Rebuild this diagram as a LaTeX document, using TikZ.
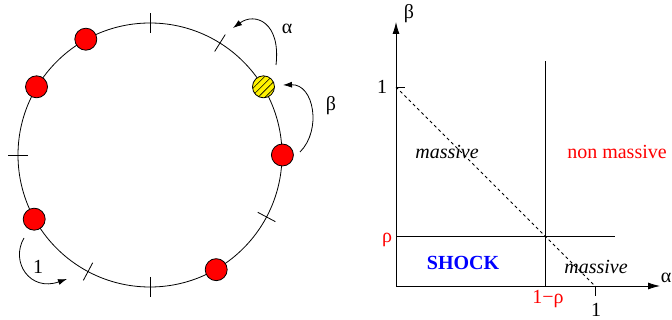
\documentclass[tikz,border=0pt]{standalone}
\usepackage{fontspec}
\setmainfont{Liberation Serif}
\usepackage{tikz}
\usetikzlibrary{
    arrows.meta,
    patterns.meta,
    calc
}

\begin{document}
\begin{tikzpicture}[x=1pt, y=-1pt, line width=0.8pt,
  font=\fontsize{20}{24}\selectfont,
  particle/.style={circle, draw, fill=red, minimum size=22pt, inner sep=0pt},
  probe/.style={circle, draw, fill=yellow, minimum size=22pt, inner sep=0pt,
                postaction={pattern={Lines[angle=45, distance=5pt, line width=0.6pt]}}},
  hop/.style={-{Latex[length=9pt, width=6pt]}},
  axis/.style={-{Latex[length=12pt, width=7pt]}},
  lbl/.style={inner sep=0pt}]

  \useasboundingbox (0,0) rectangle (672,320);

  % Ring of sites
  \node[circle, draw, minimum size=264pt, inner sep=0pt] (ring) at (150,155) {};
  \foreach \a in {90,180,270,58,-28,-118}
    \draw (ring.center) ++(\a:122pt) -- ++(\a:20pt);

  % Particles (red) and tagged particle (yellow)
  \node[particle] (p1) at (ring.119) {};
  \node[particle] (p2) at (ring.149) {};
  \node[particle] (p3) at (ring.209) {};
  \node[particle] (p4) at (ring.-60) {};
  \node[particle] (p5) at (ring.0)   {};
  \node[probe]    (tag) at (ring.31) {};

  % Hopping arrows
  \coordinate (aS) at (276,65);  \coordinate (aE) at (233,28);
  \coordinate (bS) at (300,152); \coordinate (bE) at (283,85);
  \coordinate (cS) at (24,238);  \coordinate (cE) at (67,279);
  \draw[hop] (aS) .. controls (281,22) and (255,12) .. (aE);
  \draw[hop] (bS) .. controls (322,130) and (314,84) .. (bE);
  \draw[hop] (cS) .. controls (10,262) and (30,292) .. (cE);
  \node[lbl] (la) at (287,29)  {α};
  \node[lbl] (lb) at (331,106) {β};
  \node[lbl] (lc) at (38,267)  {1};

  % Phase diagram
  \coordinate (O)    at (396,286);
  \coordinate (ytop) at (396,22);
  \coordinate (xend) at (660,286);
  \coordinate (b1)   at (396,87);
  \coordinate (a1)   at (595,286);
  \coordinate (v1)   at (545,286);
  \coordinate (v2)   at (545,61);
  \coordinate (h1)   at (396,236);
  \coordinate (h2)   at (615,236);

  \draw[axis] (O) -- (ytop);
  \draw[axis] (O) -- (xend);
  \draw (b1) -- ++(9,0);
  \draw (a1) -- ++(0,10);
  \draw[dashed, dash pattern=on 3pt off 3pt] (b1) -- (a1);
  \draw (v1) -- (v2);
  \draw (h1) -- (h2);

  \node[lbl] (nbeta)  at (409,14)  {β};
  \node[lbl] (nalpha) at (666,278) {α};
  \node[lbl] (n1y)    at (382,87)  {1};
  \node[lbl] (n1x)    at (596,310) {1};
  \node[lbl, text=red] (nrho)  at (387,240) {ρ};
  \node[lbl, text=red] (nrho1) at (548,299) {1−ρ};
  \node[lbl] (mas1) at (447,152) {\itshape massive};
  \node[lbl] (mas2) at (596,267) {\itshape massive};
  \node[lbl, text=red] (nonm) at (617,152) {non massive};
  \node[lbl, text=blue] (shock) at (463,263) {\bfseries SHOCK};
\end{tikzpicture}
\end{document}
